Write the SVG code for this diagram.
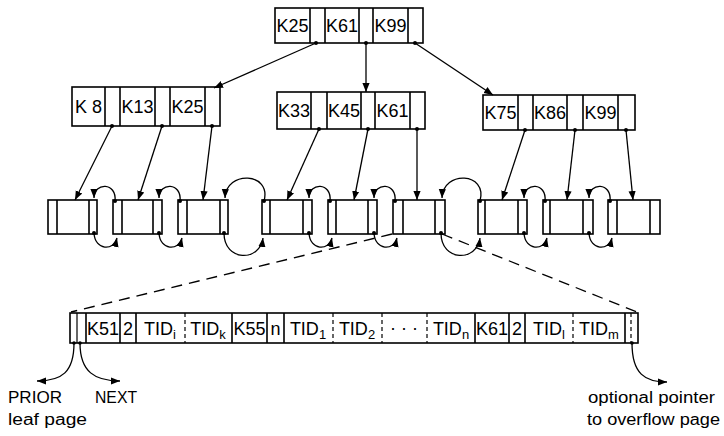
<svg xmlns="http://www.w3.org/2000/svg" width="724" height="436" viewBox="0 0 724 436">
<style>
.c{fill:none;stroke:#000;stroke-width:1.6}
.t{fill:none;stroke:#000;stroke-width:1.2}
.d{fill:none;stroke:#000;stroke-width:1.2;stroke-dasharray:4 3}
.k{font-family:"Liberation Sans",Arial,sans-serif;font-size:18px;fill:#000;text-anchor:middle}
.p{font-family:"Liberation Sans",Arial,sans-serif;font-size:18px;fill:#000;text-anchor:middle}
.s{font-size:13px}
.l{font-family:"Liberation Sans",Arial,sans-serif;font-size:16px;fill:#000}
.a{fill:none;stroke:#000;stroke-width:1.3}
.dl{fill:none;stroke:#000;stroke-width:1.3;stroke-dasharray:11 7}
.dot{fill:#000}
</style>
<defs>
<marker id="ah" viewBox="0 0 10 10" refX="10" refY="5" markerWidth="9" markerHeight="9" markerUnits="userSpaceOnUse" orient="auto">
<path d="M0,1 L10,5 L0,9 Z" fill="#000"/>
</marker>
</defs>
<rect width="724" height="436" fill="#fff"/>

<g id="root">
<rect class="c" x="275" y="8" width="148" height="35"/>
<path class="c" d="M310,8V43M325,8V43M359,8V43M373,8V43M408,8V43"/>
<text class="k" x="292.5" y="32">K25</text>
<text class="k" x="342" y="32">K61</text>
<text class="k" x="390.5" y="32">K99</text>
</g>

<g id="inner1">
<rect class="c" x="72" y="87" width="148" height="39"/>
<path class="c" d="M105,87V126M120,87V126M155,87V126M170,87V126M205,87V126"/>
<text class="k" x="88.5" y="113">K 8</text>
<text class="k" x="137.5" y="113">K13</text>
<text class="k" x="187.5" y="113">K25</text>
</g>

<g id="inner2">
<rect class="c" x="277" y="92" width="148" height="37"/>
<path class="c" d="M311,92V129M327,92V129M361,92V129M375,92V129M410,92V129"/>
<text class="k" x="294" y="117">K33</text>
<text class="k" x="344" y="117">K45</text>
<text class="k" x="392.5" y="117">K61</text>
</g>

<g id="inner3">
<rect class="c" x="483" y="95" width="152" height="35"/>
<path class="c" d="M518,95V130M533,95V130M567,95V130M583,95V130M618,95V130"/>
<text class="k" x="500.5" y="119">K75</text>
<text class="k" x="550" y="119">K86</text>
<text class="k" x="600.5" y="119">K99</text>
</g>

<g id="leaf1"><rect class="c" x="48" y="200" width="49" height="34"/><path class="c" d="M57,200V234M89,200V234"/></g>
<g id="leaf2"><rect class="c" x="113" y="200" width="49" height="34"/><path class="c" d="M122,200V234M153,200V234"/></g>
<g id="leaf3"><rect class="c" x="178" y="200" width="50" height="34"/><path class="c" d="M187,200V234M220,200V234"/></g>
<g id="leaf4"><rect class="c" x="262" y="200" width="50" height="34"/><path class="c" d="M270,200V234M303,200V234"/></g>
<g id="leaf5"><rect class="c" x="328" y="200" width="49" height="34"/><path class="c" d="M336,200V234M368,200V234"/></g>
<g id="leaf6"><rect class="c" x="393" y="200" width="52" height="34"/><path class="c" d="M403,200V234M435,200V234"/></g>
<g id="leaf7"><rect class="c" x="478" y="200" width="49" height="34"/><path class="c" d="M485,200V234M518,200V234"/></g>
<g id="leaf8"><rect class="c" x="543" y="200" width="50" height="34"/><path class="c" d="M550,200V234M583,200V234"/></g>
<g id="leaf9"><rect class="c" x="608" y="200" width="52" height="34"/><path class="c" d="M617,200V234M650,200V234"/></g>

<g id="leafpage">
<rect class="c" x="70" y="313" width="568" height="30"/>
<path class="t" d="M77,313V343"/>
<path class="c" d="M86,313V343M120,313V343M136,313V343M232,313V343M267,313V343M284,313V343M475,313V343M509,313V343M525,313V343M625,313V343"/>
<path class="d" d="M185,313V343M333,313V343M382,313V343M427,313V343M573,313V343M631,313V343"/>
<text class="p" x="103" y="335">K51</text>
<text class="p" x="128" y="335">2</text>
<text class="p" x="160" y="335">TID<tspan class="s" dy="4">i</tspan></text>
<text class="p" x="208" y="335">TID<tspan class="s" dy="4">k</tspan></text>
<text class="p" x="249.5" y="335">K55</text>
<text class="p" x="275.5" y="335">n</text>
<text class="p" x="308" y="335">TID<tspan class="s" dy="4">1</tspan></text>
<text class="p" x="357" y="335">TID<tspan class="s" dy="4">2</tspan></text>
<text class="p" x="404" y="334">· · ·</text>
<text class="p" x="451" y="335">TID<tspan class="s" dy="4">n</tspan></text>
<text class="p" x="492" y="335">K61</text>
<text class="p" x="517" y="335">2</text>
<text class="p" x="549" y="335">TID<tspan class="s" dy="4">l</tspan></text>
<text class="p" x="599" y="335">TID<tspan class="s" dy="4">m</tspan></text>
</g>

<g id="labels">
<text class="l" x="8" y="403" textLength="54" lengthAdjust="spacingAndGlyphs">PRIOR</text>
<text class="l" x="95" y="403" textLength="42" lengthAdjust="spacingAndGlyphs">NEXT</text>
<text class="l" x="8" y="425" textLength="79" lengthAdjust="spacingAndGlyphs">leaf page</text>
<text class="l" x="588" y="403" textLength="127" lengthAdjust="spacingAndGlyphs">optional pointer</text>
<text class="l" x="587" y="425" textLength="133" lengthAdjust="spacingAndGlyphs">to overflow page</text>
</g>

<g id="connectors">
<path class="a" d="M316,43L214,88" marker-end="url(#ah)"/>
<path class="a" d="M366,43L366,92" marker-end="url(#ah)"/>
<path class="a" d="M415,43L493,95" marker-end="url(#ah)"/>
<circle class="dot" cx="316" cy="43" r="2"/><circle class="dot" cx="366" cy="43" r="2"/><circle class="dot" cx="415" cy="43" r="2"/>
<path class="a" d="M112,126L75,200" marker-end="url(#ah)"/>
<path class="a" d="M162,126L138,200" marker-end="url(#ah)"/>
<path class="a" d="M212,126L203,200" marker-end="url(#ah)"/>
<path class="a" d="M319,129L287,200" marker-end="url(#ah)"/>
<path class="a" d="M368,129L354,200" marker-end="url(#ah)"/>
<path class="a" d="M417,129L417,200" marker-end="url(#ah)"/>
<path class="a" d="M525,130L502,200" marker-end="url(#ah)"/>
<path class="a" d="M575,130L567,200" marker-end="url(#ah)"/>
<path class="a" d="M626,130L633,200" marker-end="url(#ah)"/>
<g class="dot">
<circle cx="112" cy="126" r="2"/><circle cx="162" cy="126" r="2"/><circle cx="212" cy="126" r="2"/>
<circle cx="319" cy="129" r="2"/><circle cx="368" cy="129" r="2"/><circle cx="417" cy="129" r="2"/>
<circle cx="525" cy="130" r="2"/><circle cx="575" cy="130" r="2"/><circle cx="626" cy="130" r="2"/>
</g>
<path class="a" d="M115,201C117,182 94,182 94,198" marker-end="url(#ah)"/>
<path class="a" d="M94,233C95,251 114,251 117,238" marker-end="url(#ah)"/>
<path class="a" d="M180,201C182,182 159,182 159,198" marker-end="url(#ah)"/>
<path class="a" d="M159,233C160,251 179,251 182,238" marker-end="url(#ah)"/>
<path class="a" d="M330,201C332,182 309,182 309,198" marker-end="url(#ah)"/>
<path class="a" d="M309,233C310,251 329,251 332,238" marker-end="url(#ah)"/>
<path class="a" d="M395,201C397,182 374,182 374,198" marker-end="url(#ah)"/>
<path class="a" d="M374,233C375,251 394,251 397,238" marker-end="url(#ah)"/>
<path class="a" d="M545,201C547,182 524,182 524,198" marker-end="url(#ah)"/>
<path class="a" d="M524,233C525,251 544,251 547,238" marker-end="url(#ah)"/>
<path class="a" d="M610,201C612,182 589,182 589,198" marker-end="url(#ah)"/>
<path class="a" d="M589,233C590,251 609,251 612,238" marker-end="url(#ah)"/>
<path class="a" d="M264,201C272,172 226,170 225,198" marker-end="url(#ah)"/>
<path class="a" d="M224,233C224,262 260,262 263,238" marker-end="url(#ah)"/>
<path class="a" d="M480,201C488,172 443,170 442,198" marker-end="url(#ah)"/>
<path class="a" d="M441,233C441,262 477,262 480,238" marker-end="url(#ah)"/>
<g class="dot">
<circle cx="115" cy="201" r="2"/><circle cx="94" cy="233" r="2"/>
<circle cx="180" cy="201" r="2"/><circle cx="159" cy="233" r="2"/>
<circle cx="264" cy="201" r="2"/><circle cx="224" cy="233" r="2"/>
<circle cx="330" cy="201" r="2"/><circle cx="309" cy="233" r="2"/>
<circle cx="395" cy="201" r="2"/><circle cx="374" cy="233" r="2"/>
<circle cx="480" cy="201" r="2"/><circle cx="441" cy="233" r="2"/>
<circle cx="545" cy="201" r="2"/><circle cx="524" cy="233" r="2"/>
<circle cx="610" cy="201" r="2"/><circle cx="589" cy="233" r="2"/>
</g>
<path class="dl" d="M392,234L71,312"/>
<path class="dl" d="M442,234L637,312"/>
<path class="a" d="M74,343C74,372 62,381 37,381" marker-end="url(#ah)"/>
<path class="a" d="M80,343C80,372 95,381 120,381" marker-end="url(#ah)"/>
<path class="a" d="M632,343C632,374 645,382 667,382" marker-end="url(#ah)"/>
<circle class="dot" cx="74" cy="343" r="1.8"/><circle class="dot" cx="80" cy="343" r="1.8"/><circle class="dot" cx="632" cy="343" r="1.8"/>
</g>
</svg>
